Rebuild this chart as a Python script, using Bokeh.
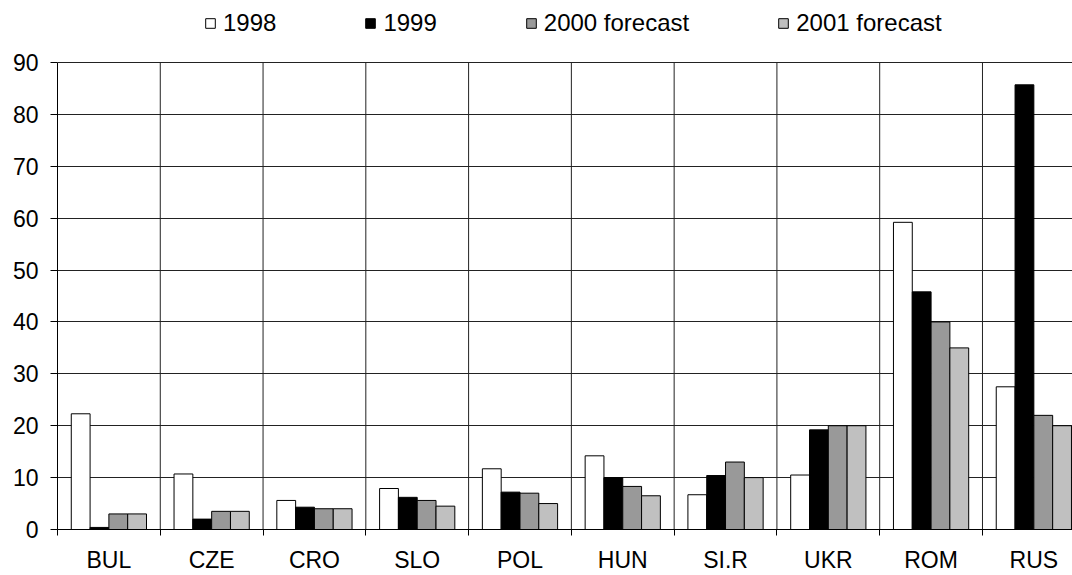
from bokeh.plotting import figure
from bokeh.models import ColumnDataSource, FixedTicker, Legend, LegendItem, Range1d
from bokeh.transform import dodge
from bokeh.embed import file_html
from bokeh.resources import INLINE

categories = ["BUL", "CZE", "CRO", "SLO", "POL", "HUN", "SI.R", "UKR", "ROM", "RUS"]
v1998 = [22.3, 10.7, 5.6, 7.9, 11.7, 14.2, 6.7, 10.5, 59.2, 27.5]
v1999 = [0.4, 2.0, 4.3, 6.2, 7.2, 10.0, 10.4, 19.2, 45.8, 85.7]
v2000 = [3.0, 3.5, 4.0, 5.6, 7.0, 8.3, 13.0, 20.0, 40.0, 22.0]
v2001 = [3.0, 3.5, 4.0, 4.5, 5.0, 6.5, 10.0, 20.0, 35.0, 20.0]
series_names = ["1998", "1999", "2000 forecast", "2001 forecast"]
y_ticks = [0, 10, 20, 30, 40, 50, 60, 70, 80, 90]

FONT = "Liberation Sans"
FS = "23px"
YMAX = y_ticks[-1]

n = len(categories)
centers = [i + 0.5 for i in range(n)]
bounds_x = list(range(0, n + 1))
src = ColumnDataSource(dict(x=centers, cat=categories, a=v1998, b=v1999, c=v2000, d=v2001))

p = figure(width=1072, height=575, output_backend="svg", toolbar_location=None,
           x_range=Range1d(0, 9.876), y_range=Range1d(0, 101.95),
           min_border_left=57, min_border_right=0, min_border_top=0, min_border_bottom=46)
p.outline_line_color = None
p.background_fill_color = "white"
p.border_fill_color = "white"

# vertical separators between categories
p.segment(x0=bounds_x[1:], y0=0, x1=bounds_x[1:], y1=YMAX, line_color="#222222", line_width=1)

bw = 0.183
cols = ["a", "b", "c", "d"]
fills = ["#ffffff", "#000000", "#999999", "#c0c0c0"]
offs = [-1.5 * bw, -0.5 * bw, 0.5 * bw, 1.5 * bw]
rends = []
for col, f, o in zip(cols, fills, offs):
    r = p.vbar(x=dodge("x", o, range=p.x_range), top=col, width=bw, source=src,
               fill_color=f, line_color="black", line_width=1)
    rends.append(r)

# axes
p.xaxis.ticker = FixedTicker(ticks=centers, minor_ticks=bounds_x)
p.xaxis.major_label_overrides = {c: lab for c, lab in zip(centers, categories)}
p.xaxis.major_tick_out = 0
p.xaxis.major_tick_in = 0
p.xaxis.minor_tick_out = 6
p.xaxis.minor_tick_in = 0
p.xaxis.minor_tick_line_color = "black"
p.xaxis.major_label_standoff = 11

p.yaxis.ticker = FixedTicker(ticks=y_ticks)
p.yaxis.bounds = (0, YMAX)
p.yaxis.major_tick_out = 7
p.yaxis.major_tick_in = 0
p.yaxis.minor_tick_line_color = None
p.yaxis.major_label_standoff = 12

for ax in (p.xaxis[0], p.yaxis[0]):
    ax.axis_line_color = "black"
    ax.major_tick_line_color = "black"
    ax.major_label_text_font = FONT
    ax.major_label_text_font_size = FS
    ax.major_label_text_color = "black"

p.xgrid.grid_line_color = None
p.ygrid.ticker = FixedTicker(ticks=y_ticks[1:])
p.ygrid.grid_line_color = "#222222"
p.ygrid.grid_line_width = 1

legend = Legend(items=[LegendItem(label=s, renderers=[r]) for s, r in zip(series_names, rends)],
                orientation="horizontal", location=(147, 492),
                label_text_font=FONT, label_text_font_size="24px", label_text_color="black",
                glyph_width=12, glyph_height=12, label_standoff=7, spacing=88,
                padding=0, margin=0, border_line_color=None, background_fill_alpha=0)
p.add_layout(legend)

open("out.html", "w").write(file_html(p, INLINE))
